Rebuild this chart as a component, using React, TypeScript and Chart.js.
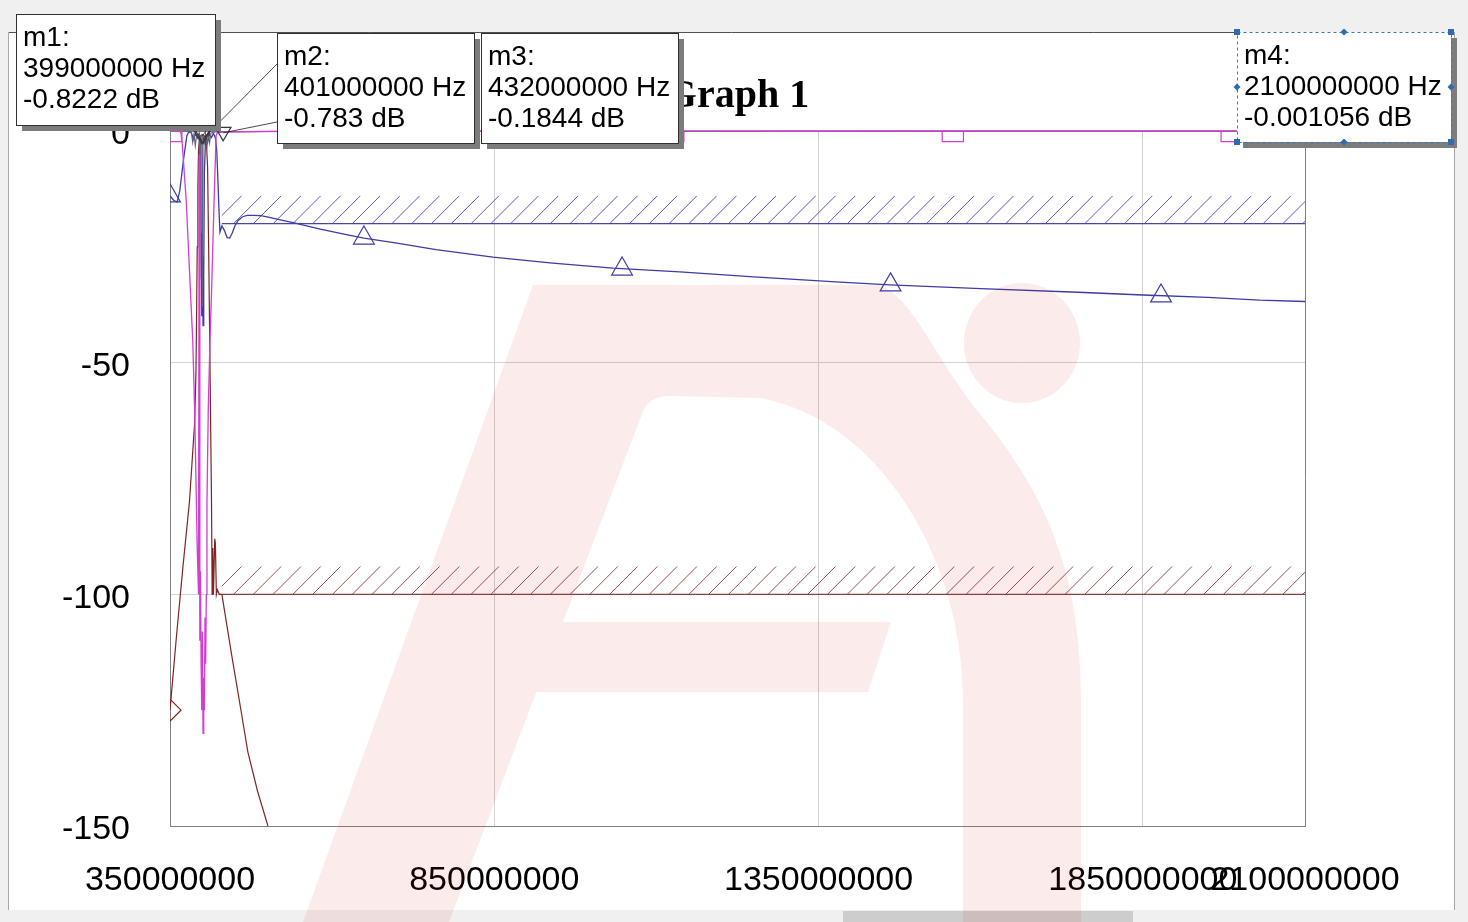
import React, { useEffect, useRef } from 'react';
import { Chart, registerables } from 'chart.js';

Chart.register(...registerables);

// ---------- axes ----------
const xMinHz = 350000000;
const xMaxHz = 2100000000;
const yMinDb = -150;
const yMaxDb = 0;
const xTickHz = [350000000, 850000000, 1350000000, 1850000000, 2100000000];
const yTickDb = [0, -50, -100, -150];

// ---------- traces (frequency in MHz, level in dB) ----------
const magentaMHz = [350, 365, 367, 369, 371, 373, 375, 378, 381, 385, 388, 390, 392, 394, 395, 396, 397, 398, 399, 400, 401, 402, 403, 404, 405, 406, 407, 409, 411.7, 414, 416, 418, 420, 421, 423, 432, 500, 700, 1000, 1500, 2100];
const magentaDb = [-0.01, -0.05, -0.5, -3, -7, -11, -15, -24, -33, -45, -60, -75, -90, -100, -5, -110, -95, -115, -125, -108, -130, -118, -125, -105, -115, -100, -80, -60, -45, -35, -25, -15, -6, -1, -0.4, -0.1844, -0.08, -0.03, -0.01, -0.004, -0.001056];

const blueMHz = [350, 356, 361, 365, 368, 371, 374, 376, 379, 383, 386, 389, 392, 395, 397, 398, 399, 400, 401, 402, 403, 405, 408, 411, 414, 417, 420, 422, 424, 425.5, 427, 430, 434, 438, 442, 446, 450, 455, 462, 469, 480, 492, 505, 520, 543, 580, 620, 649, 700, 760, 848, 940, 1033, 1136, 1250, 1383, 1460, 1600, 1750, 1850, 1950, 2030, 2100];
const blueDb = [-14, -15, -15.3, -13, -9.5, -6, -3, -1, -0.2, -0.4, -1.8, -0.6, -1.5, -0.5, -2.5, -22, -40, -27, -42, -31, -9, -0.8, -2.5, -0.7, -1.4, -0.5, -1.5, -4, -11, -17, -21.8, -20.5, -21.5, -23, -23.1, -22, -20.5, -19.3, -18.5, -18.2, -18.2, -18.3, -18.7, -19.2, -19.9, -21.1, -22.3, -23.1, -24.2, -25.6, -27.2, -28.5, -29.6, -30.4, -31.5, -32.6, -33.2, -34.0, -34.8, -35.4, -35.9, -36.5, -36.8];

const maroonMHz = [350, 360, 370, 380, 388, 390, 391, 392, 393, 394, 396, 398, 400, 402, 404, 406, 408, 410, 412, 414, 415, 416, 417, 419, 420, 421.5, 423, 426, 430, 445, 460, 470, 485, 501, 530];
const maroonDb = [-125, -109, -94, -80, -63, -52, -40, -25, -12, -4, -1.2, -0.9, -0.8, -0.9, -1.2, -2, -8, -30, -55, -80, -100, -90, -100, -88, -89, -100, -99, -100, -100, -113, -125.5, -134, -142.5, -150, -162];

const grayMHz = [350, 380, 383, 385, 387, 389, 391, 393, 395, 396, 397, 398, 399, 400, 401, 403, 405, 407, 409, 411, 413, 416, 420, 432, 600, 2100];
const grayDb = [-0.002, -0.01, -0.4, -2.5, -0.6, -3.2, -0.9, -1.6, -1, -32, -1.5, -2, -0.8222, -38, -0.783, -2.5, -0.9, -3.2, -0.7, -2.6, -0.5, -0.3, -0.22, -0.1844, -0.03, -0.001056];

// ---------- trace symbols ----------
const magentaSymMHz = [352, 695, 1126, 1557, 1987];
const magentaSymDb = [-0.01, -0.03, -0.01, -0.005, -0.002];
const blueSymMHz = [350, 649, 1047, 1461, 1878];
const blueSymDb = [-14, -23.1, -29.8, -33.2, -35.6];
const maroonSymMHz = [350];
const maroonSymDb = [-125];

// ---------- markers ----------
const markerNames = ['m1', 'm2', 'm3', 'm4'];
const markerHz = [399000000, 401000000, 432000000, 2100000000];
const markerDb = [-0.8222, -0.783, -0.1844, -0.001056];
const markerDbText = ['-0.8222', '-0.783', '-0.1844', '-0.001056'];

// ---------- spec limits ----------
const specStartMHz = [430, 430];
const specEndMHz = [2100, 2100];
const specDb = [-20, -100];

// ---------- styling ----------
const MAGENTA = '#d43cd4';
const BLUE = '#3c3ca4';
const MAROON = '#7e2424';
const GRAY = '#62627e';
const specColors = ['#4646aa', '#844040'];
const FONT = '"Liberation Sans", Arial, sans-serif';

// box layout (positions of the marker readout panels)
const boxLayout = [
  { x: 16, y: 14, w: 199, h: 111 },
  { x: 277, y: 33, w: 197, h: 110 },
  { x: 481, y: 33, w: 197, h: 110 },
  { x: 1237, y: 32, w: 214, h: 110 },
];

const pts = (f: number[], d: number[]) => f.map((v, i) => ({ x: v * 1e6, y: d[i] }));

function drawWatermark(ctx: CanvasRenderingContext2D) {
  ctx.save();
  ctx.fillStyle = 'rgba(225, 20, 20, 0.085)';
  ctx.beginPath();
  ctx.moveTo(303, 922);
  ctx.lineTo(533, 285);
  ctx.lineTo(880, 285);
  ctx.bezierCurveTo(915, 300, 935, 360, 985, 420);
  ctx.bezierCurveTo(1050, 500, 1081, 580, 1081, 700);
  ctx.lineTo(1081, 922);
  ctx.lineTo(963, 922);
  ctx.lineTo(963, 700);
  ctx.bezierCurveTo(963, 560, 880, 420, 760, 398);
  ctx.lineTo(668, 396);
  ctx.quadraticCurveTo(648, 397, 642, 414);
  ctx.lineTo(449, 922);
  ctx.closePath();
  ctx.moveTo(540, 622);
  ctx.lineTo(891, 622);
  ctx.lineTo(868, 692);
  ctx.lineTo(520, 692);
  ctx.closePath();
  ctx.moveTo(1080, 343);
  ctx.ellipse(1022, 343, 58, 60, 0, 0, Math.PI * 2);
  ctx.fill('nonzero');
  ctx.restore();
}

const backgroundPlugin = {
  id: 'bg',
  beforeDraw(chart: any) {
    const { ctx, width, height, chartArea } = chart;
    ctx.save();
    ctx.fillStyle = '#f0f0f0';
    ctx.fillRect(0, 0, width, height);
    ctx.fillStyle = '#ffffff';
    ctx.fillRect(8, 32, 1447, 878);
    ctx.strokeStyle = '#505050';
    ctx.lineWidth = 1;
    ctx.beginPath();
    ctx.moveTo(8, 32.5);
    ctx.lineTo(1455, 32.5);
    ctx.stroke();
    ctx.strokeStyle = '#a8a8a8';
    ctx.beginPath();
    ctx.moveTo(8.5, 32);
    ctx.lineTo(8.5, 910);
    ctx.moveTo(1454.5, 32);
    ctx.lineTo(1454.5, 910);
    ctx.stroke();
    // scrollbar
    ctx.fillStyle = '#f0f0f0';
    ctx.fillRect(0, 910, width, 12);
    ctx.fillStyle = '#cdcdcd';
    ctx.fillRect(843, 911, 290, 11);
    // title
    ctx.fillStyle = '#000';
    ctx.font = 'bold 40px "Liberation Serif", "Times New Roman", serif';
    ctx.textAlign = 'center';
    ctx.textBaseline = 'middle';
    ctx.fillText('Graph 1', (chartArea.left + chartArea.right) / 2, 97);
    ctx.restore();
  },
};

const framePlugin = {
  id: 'frame',
  beforeDatasetsDraw(chart: any) {
    const { ctx, chartArea, scales } = chart;
    const { left, right, top, bottom } = chartArea;
    ctx.save();
    ctx.strokeStyle = '#808080';
    ctx.lineWidth = 1;
    ctx.beginPath();
    ctx.moveTo(Math.round(right) + 0.5, top);
    ctx.lineTo(Math.round(right) + 0.5, bottom);
    ctx.moveTo(left, Math.round(top) + 0.5);
    ctx.lineTo(right, Math.round(top) + 0.5);
    ctx.stroke();
    // hatched spec limits
    const xs = scales.x;
    const ys = scales.y;
    specDb.forEach((db, i) => {
      const x1 = xs.getPixelForValue(specStartMHz[i] * 1e6);
      const x2 = xs.getPixelForValue(specEndMHz[i] * 1e6);
      const yy = ys.getPixelForValue(db);
      const h = 28;
      const step = 19.8;
      ctx.save();
      ctx.beginPath();
      ctx.rect(x1, yy - h, x2 - x1, h);
      ctx.clip();
      ctx.strokeStyle = specColors[i];
      ctx.lineWidth = 0.9;
      ctx.beginPath();
      for (let sx = x1 - h; sx < x2; sx += step) {
        ctx.moveTo(sx, yy);
        ctx.lineTo(sx + h, yy - h);
      }
      ctx.stroke();
      ctx.restore();
    });
    ctx.restore();
  },
};

const boxesPlugin = {
  id: 'boxes',
  afterDraw(chart: any) {
    const { ctx, scales } = chart;
    const xs = scales.x;
    const ys = scales.y;
    ctx.save();
    // leader lines
    ctx.strokeStyle = '#202020';
    ctx.lineWidth = 0.8;
    const mx = markerHz.map((h) => xs.getPixelForValue(h));
    const my = markerDb.map((d) => ys.getPixelForValue(d));
    ctx.beginPath();
    ctx.moveTo(215, 118);
    ctx.lineTo(mx[0], my[0] + 2);
    ctx.moveTo(277, 64);
    ctx.lineTo(mx[1], my[1] + 4);
    ctx.moveTo(277, 122);
    ctx.lineTo(mx[2], my[2] + 1);
    ctx.stroke();

    boxLayout.forEach((b, i) => {
      // shadow
      ctx.fillStyle = '#7c7c7c';
      ctx.fillRect(b.x + 6, b.y + 6, b.w, b.h);
      ctx.fillStyle = '#ffffff';
      ctx.fillRect(b.x, b.y, b.w, b.h);
      if (i === 3) {
        ctx.strokeStyle = '#3a78b8';
        ctx.setLineDash([3, 3]);
        ctx.lineWidth = 1;
        ctx.strokeRect(b.x + 0.5, b.y + 0.5, b.w, b.h);
        ctx.setLineDash([]);
        ctx.fillStyle = '#2c6cb4';
        const corners = [
          [b.x, b.y], [b.x + b.w, b.y], [b.x, b.y + b.h], [b.x + b.w, b.y + b.h],
        ];
        corners.forEach(([cx, cy]) => ctx.fillRect(cx - 3, cy - 3, 6, 6));
        const mids = [
          [b.x + b.w / 2, b.y], [b.x + b.w / 2, b.y + b.h], [b.x, b.y + b.h / 2], [b.x + b.w, b.y + b.h / 2],
        ];
        mids.forEach(([cx, cy]) => {
          ctx.beginPath();
          ctx.moveTo(cx, cy - 3.5);
          ctx.lineTo(cx + 3.5, cy);
          ctx.lineTo(cx, cy + 3.5);
          ctx.lineTo(cx - 3.5, cy);
          ctx.closePath();
          ctx.fill();
        });
      } else {
        ctx.strokeStyle = '#303030';
        ctx.lineWidth = 1;
        ctx.strokeRect(b.x + 0.5, b.y + 0.5, b.w, b.h);
      }
      ctx.fillStyle = '#000';
      ctx.font = `28px ${FONT}`;
      ctx.textAlign = 'left';
      ctx.textBaseline = 'middle';
      const tx = b.x + 7;
      ctx.fillText(`${markerNames[i]}:`, tx, b.y + 24);
      ctx.fillText(`${markerHz[i]} Hz`, tx, b.y + 55);
      ctx.fillText(`${markerDbText[i]} dB`, tx, b.y + 86);
    });
    ctx.restore();
    drawWatermark(ctx);
  },
};

export default function App() {
  const ref = useRef<HTMLCanvasElement>(null);
  useEffect(() => {
    document.body.style.margin = '0';
    const canvas = ref.current;
    if (!canvas) return;
    const traceBase = {
      showLine: true,
      pointRadius: 0,
      pointHoverRadius: 0,
      tension: 0,
      borderWidth: 1.3,
      clip: { left: 0, top: 2, right: 0, bottom: 0 },
    };
    const symBase = {
      showLine: false,
      pointBackgroundColor: 'rgba(0,0,0,0)',
      pointBorderWidth: 1.2,
      clip: 0,
    };
    const chart = new Chart(canvas, {
      type: 'scatter',
      data: {
        datasets: [
          {
            ...symBase,
            data: pts(markerHz.map((h) => h / 1e6), markerDb),
            pointStyle: 'triangle',
            pointRotation: 180,
            pointRadius: 9,
            pointBorderColor: '#3a3a3a',
            clip: false,
          },
          { ...traceBase, data: pts(magentaMHz, magentaDb), borderColor: MAGENTA },
          {
            ...symBase,
            data: pts(magentaSymMHz, magentaSymDb),
            pointStyle: 'rect',
            pointRadius: 15,
            pointBorderColor: MAGENTA,
          },
          { ...traceBase, data: pts(grayMHz, grayDb), borderColor: GRAY, borderWidth: 1.1 },
          { ...traceBase, data: pts(blueMHz, blueDb), borderColor: BLUE },
          {
            ...symBase,
            data: pts(blueSymMHz, blueSymDb),
            pointStyle: 'triangle',
            pointRadius: 12,
            pointBorderColor: BLUE,
          },
          { ...traceBase, data: pts(maroonMHz, maroonDb), borderColor: MAROON, borderWidth: 1.2 },
          {
            ...symBase,
            data: pts(maroonSymMHz, maroonSymDb),
            pointStyle: 'rectRot',
            pointRadius: 11,
            pointBorderColor: MAROON,
          },
          {
            ...traceBase,
            data: [
              { x: specStartMHz[0] * 1e6, y: specDb[0] },
              { x: specEndMHz[0] * 1e6, y: specDb[0] },
            ],
            borderColor: specColors[0],
            borderWidth: 1.2,
          },
          {
            ...traceBase,
            data: [
              { x: specStartMHz[1] * 1e6, y: specDb[1] },
              { x: specEndMHz[1] * 1e6, y: specDb[1] },
            ],
            borderColor: specColors[1],
            borderWidth: 1.2,
          },
        ],
      },
      options: {
        animation: false,
        responsive: false,
        devicePixelRatio: 1,
        events: [],
        layout: { padding: { left: 0, right: 163, top: 131, bottom: 0 } },
        plugins: {
          legend: { display: false },
          tooltip: { enabled: false },
          title: { display: false },
        },
        scales: {
          x: {
            type: 'linear',
            min: xMinHz,
            max: xMaxHz,
            afterBuildTicks: (scale: any) => {
              scale.ticks = xTickHz.map((v) => ({ value: v }));
            },
            afterFit: (scale: any) => {
              scale.height = 96;
            },
            ticks: {
              autoSkip: false,
              maxRotation: 0,
              minRotation: 0,
              padding: 34,
              color: '#000',
              font: { family: FONT, size: 34 },
              callback: (v: any) => Math.round(Number(v)).toString(),
            },
            grid: {
              drawTicks: false,
              lineWidth: 1,
              color: (c: any) =>
                c.tick && (c.tick.value === xMinHz || c.tick.value === xMaxHz) ? 'rgba(0,0,0,0)' : '#d2d2d2',
            },
            border: { display: true, color: '#808080', width: 1 },
          },
          y: {
            type: 'linear',
            min: yMinDb,
            max: yMaxDb,
            afterBuildTicks: (scale: any) => {
              scale.ticks = yTickDb.map((v) => ({ value: v }));
            },
            afterFit: (scale: any) => {
              scale.width = 170;
            },
            ticks: {
              padding: 40,
              labelOffset: 4,
              color: '#000',
              font: { family: FONT, size: 34 },
              callback: (v: any) => String(v),
            },
            grid: {
              drawTicks: false,
              lineWidth: 1,
              color: (c: any) =>
                c.tick && (c.tick.value === yMinDb || c.tick.value === yMaxDb) ? 'rgba(0,0,0,0)' : '#d2d2d2',
            },
            border: { display: true, color: '#808080', width: 1 },
          },
        },
      },
      plugins: [backgroundPlugin, framePlugin, boxesPlugin],
    } as any);
    return () => chart.destroy();
  }, []);
  return (
    <div style={{ width: 1468, height: 922 }}>
      <canvas ref={ref} width={1468} height={922} style={{ display: 'block', width: 1468, height: 922 }} />
    </div>
  );
}
